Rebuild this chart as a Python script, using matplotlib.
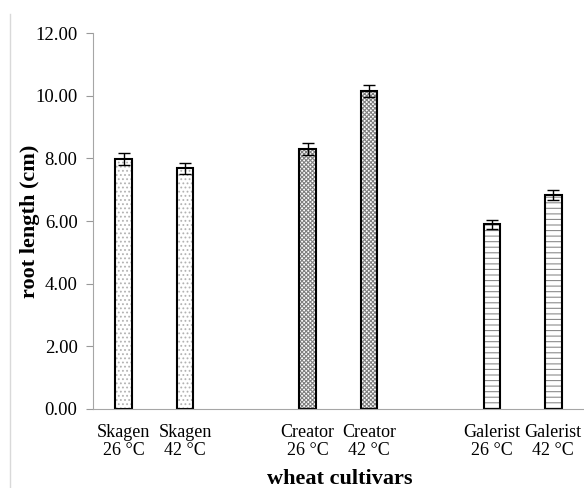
import matplotlib
matplotlib.use('Agg')
import matplotlib.pyplot as plt
from matplotlib.lines import Line2D

plt.rcParams['font.family'] = ['Liberation Serif', 'DejaVu Serif']
plt.rcParams['hatch.linewidth'] = 0.8

labels = ['Skagen\n26 °C', 'Skagen\n42 °C', 'Creator\n26 °C', 'Creator\n42 °C',
          'Galerist\n26 °C', 'Galerist\n42 °C']
positions = [0, 1, 3, 4, 6, 7]
root_length = [7.98, 7.68, 8.29, 10.15, 5.90, 6.83]
errors = [0.18, 0.18, 0.19, 0.18, 0.14, 0.16]
hatches = ['....', '....', 'xxxxxxxx', 'xxxxxxxx', '---', '---']
hatch_colors = [(0.7, 0.7, 0.7, 1), (0.7, 0.7, 0.7, 1), (0.5, 0.5, 0.5, 1),
                (0.5, 0.5, 0.5, 1), (0.55, 0.55, 0.55, 1), (0.55, 0.55, 0.55, 1)]

fig = plt.figure(figsize=(5.84, 4.88), dpi=100)
ax = fig.add_axes([0.159, 0.162, 0.841, 0.770])

for x, v, e, h, hc in zip(positions, root_length, errors, hatches, hatch_colors):
    b = ax.bar(x, v, width=0.27, color='white', edgecolor='black', linewidth=1.5,
               hatch=h, zorder=2)
    b[0]._hatch_color = hc
    ax.errorbar(x, v, yerr=e, color='black', capsize=4, elinewidth=1, capthick=1,
                zorder=3)

ax.set_xlim(-0.5, 7.5)
ax.set_ylim(0, 12)
ax.set_yticks([0, 2, 4, 6, 8, 10, 12])
ax.set_yticklabels(['%.2f' % t for t in [0, 2, 4, 6, 8, 10, 12]], fontsize=13.5)
ax.set_xticks(positions)
ax.set_xticklabels(labels, fontsize=13, linespacing=1.05)
ax.tick_params(axis='x', length=0, pad=11)
ax.tick_params(axis='y', length=5, color='#999999', direction='out', pad=6)

for s in ['top', 'right']:
    ax.spines[s].set_visible(False)
for s in ['left', 'bottom']:
    ax.spines[s].set_color('#a6a6a6')

ax.set_ylabel('root length (cm)', fontsize=16, fontweight='bold')
ax.yaxis.set_label_coords(-0.108, 0.5)
ax.set_xlabel('wheat cultivars', fontsize=16, fontweight='bold')
ax.xaxis.set_label_coords(0.503, -0.16)

fig.add_artist(Line2D([10 / 584, 10 / 584], [0, 1 - 14 / 488], color='#d9d9d9',
                      linewidth=1, transform=fig.transFigure))

fig.savefig('out.png', dpi=100)
